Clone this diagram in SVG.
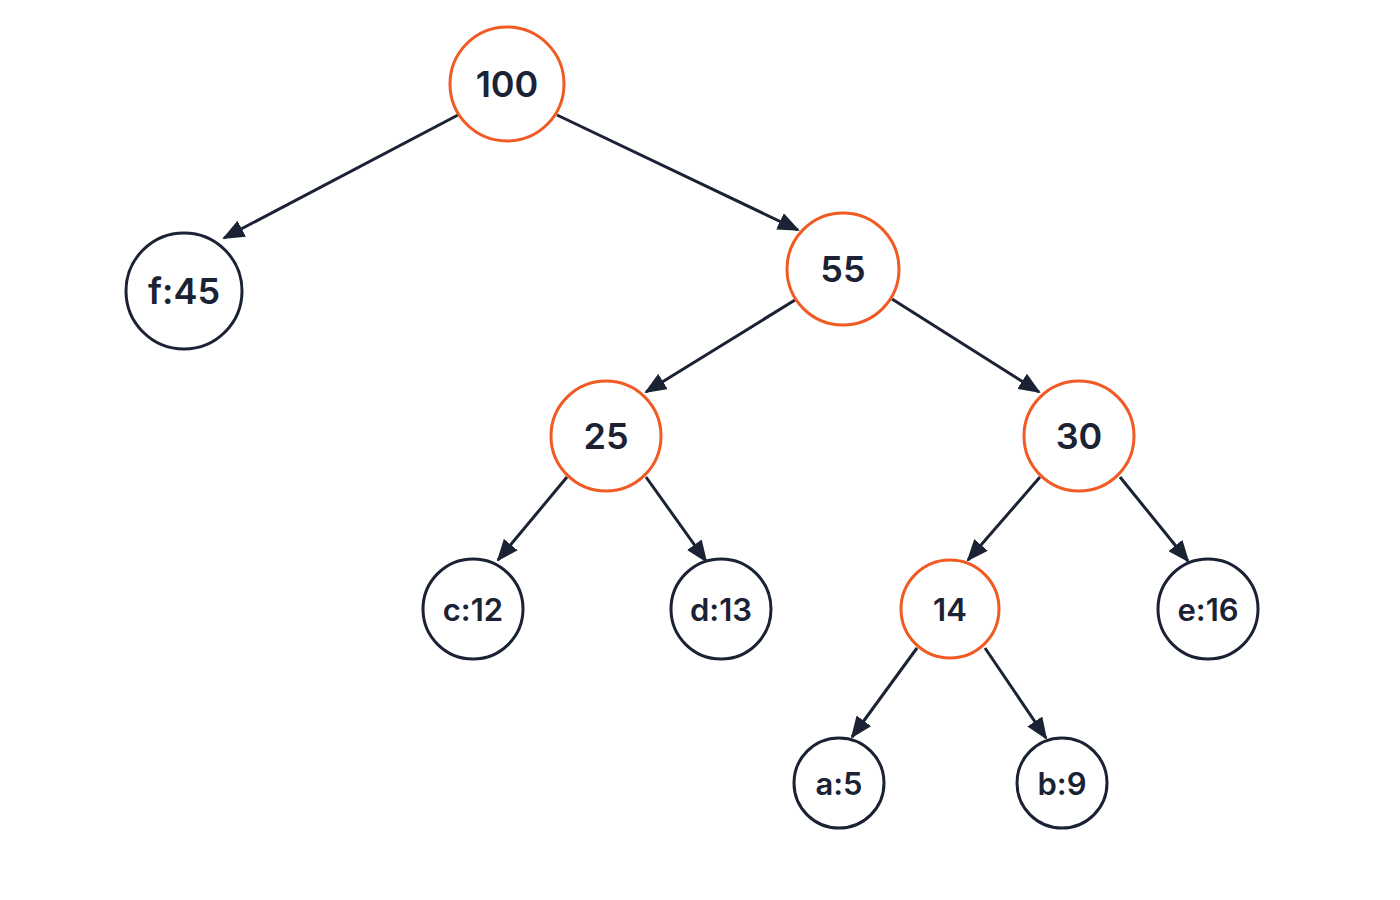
<svg xmlns="http://www.w3.org/2000/svg" width="1400" height="900" viewBox="0 0 1400 900">
<defs>
<marker id="ah" markerWidth="22" markerHeight="18" refX="20" refY="9" orient="auto" markerUnits="userSpaceOnUse" viewBox="0 0 22 18"><path d="M0,0 L22,9 L0,18 z" fill="#1a2233"/></marker>
</defs>
<style>
.int{fill:#fff;stroke:#f15a22;stroke-width:3}
.leaf{fill:#fff;stroke:#1a2233;stroke-width:3}
text{font-family:Inter,"Liberation Sans",sans-serif;font-weight:600;fill:#1a2233;text-anchor:middle;dominant-baseline:central}
.b{font-size:36px}.s{font-size:31px}
.e{stroke:#1a2233;stroke-width:3;fill:none}
</style>
<rect width="1400" height="900" fill="#fff"/>
<g id="edges">
<path class="e" d="M458,115 L224,238" marker-end="url(#ah)"/>
<path class="e" d="M557,115 L798,230" marker-end="url(#ah)"/>
<path class="e" d="M795,300 L646,392" marker-end="url(#ah)"/>
<path class="e" d="M892,299 L1039,392" marker-end="url(#ah)"/>
<path class="e" d="M567,477 L498,560" marker-end="url(#ah)"/>
<path class="e" d="M646,477 L706,561" marker-end="url(#ah)"/>
<path class="e" d="M1040,477 L968,560" marker-end="url(#ah)"/>
<path class="e" d="M1120,477 L1188,561" marker-end="url(#ah)"/>
<path class="e" d="M917,648 L852,737" marker-end="url(#ah)"/>
<path class="e" d="M985,648 L1046,738" marker-end="url(#ah)"/>
</g>
<g id="n100"><circle class="int" cx="507" cy="84" r="57"/><text class="b" x="507" y="84">100</text></g>
<g id="nf45"><circle class="leaf" cx="184" cy="291" r="58"/><text class="b" x="184" y="291">f:45</text></g>
<g id="n55"><circle class="int" cx="843" cy="269" r="56"/><text class="b" x="843" y="269">55</text></g>
<g id="n25"><circle class="int" cx="606" cy="436" r="55"/><text class="b" x="606" y="436">25</text></g>
<g id="n30"><circle class="int" cx="1079" cy="436" r="55"/><text class="b" x="1079" y="436">30</text></g>
<g id="nc12"><circle class="leaf" cx="473" cy="609" r="50"/><text class="s" x="473" y="609">c:12</text></g>
<g id="nd13"><circle class="leaf" cx="721" cy="609" r="50"/><text class="s" x="721" y="609">d:13</text></g>
<g id="n14"><circle class="int" cx="950" cy="609" r="49"/><text class="s" x="950" y="609">14</text></g>
<g id="ne16"><circle class="leaf" cx="1208" cy="609" r="50"/><text class="s" x="1208" y="609">e:16</text></g>
<g id="na5"><circle class="leaf" cx="839" cy="783" r="45"/><text class="s" x="839" y="783">a:5</text></g>
<g id="nb9"><circle class="leaf" cx="1062" cy="783" r="45"/><text class="s" x="1062" y="783">b:9</text></g>
</svg>
